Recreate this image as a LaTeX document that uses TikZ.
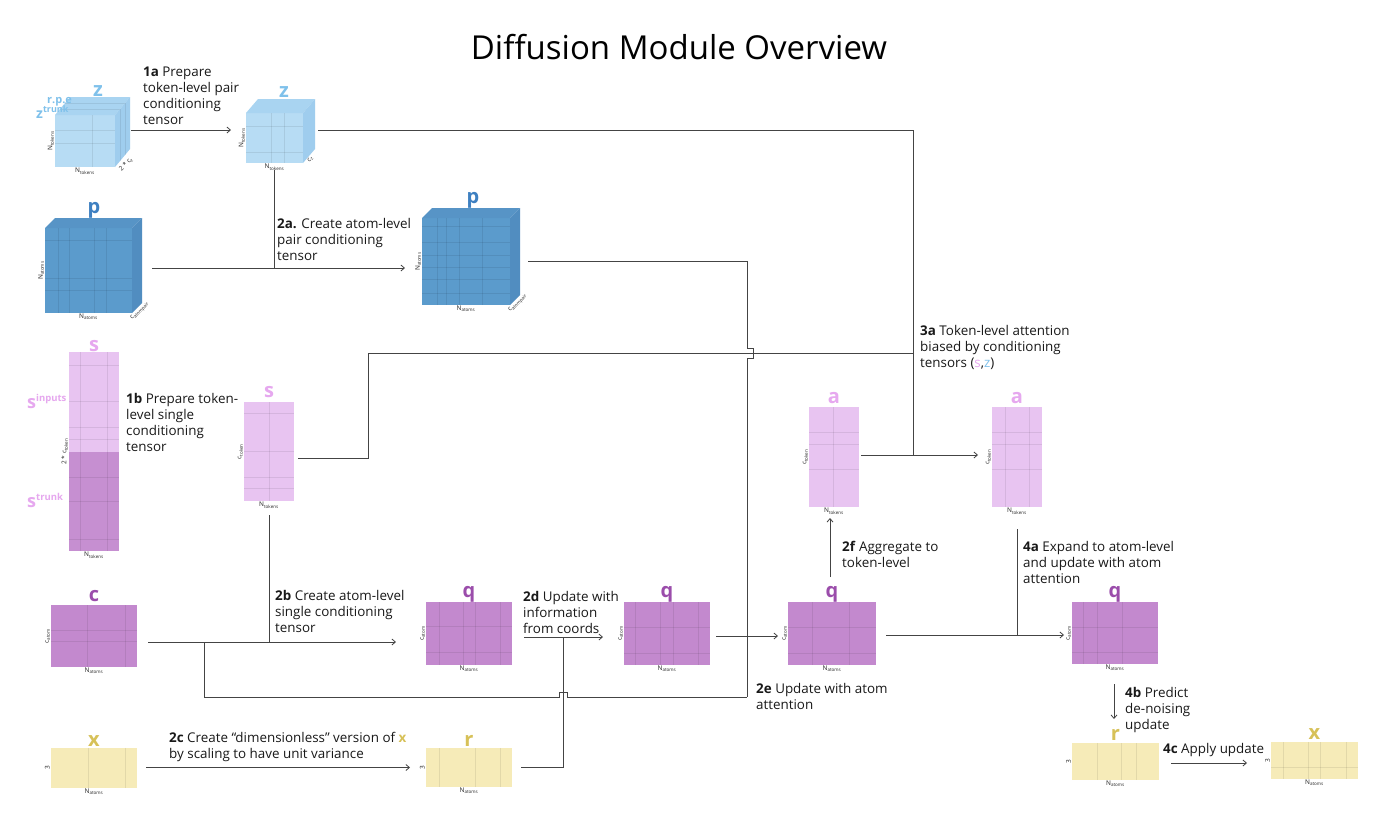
\documentclass[tikz,border=0pt]{standalone}
\usepackage{fontspec}
\setmainfont{Open Sans}
\usepackage{xcolor}
\usepackage{tikz}
\usetikzlibrary{positioning, arrows.meta, calc}
\definecolor{linegray}{HTML}{444444}
\definecolor{zface}{HTML}{B7DCF4}
\definecolor{ztop}{HTML}{A9D4F1}
\definecolor{zside}{HTML}{9FCDEE}
\definecolor{zname}{HTML}{7FC1EB}
\definecolor{pface}{HTML}{5B9BCC}
\definecolor{ptop}{HTML}{5794C6}
\definecolor{pside}{HTML}{518DC0}
\definecolor{pname}{HTML}{3E80C1}
\definecolor{sface}{HTML}{E8C4F1}
\definecolor{strunk}{HTML}{C68FD1}
\definecolor{sname}{HTML}{E6A8EF}
\definecolor{qface}{HTML}{C389CE}
\definecolor{qname}{HTML}{9B4DAB}
\definecolor{xface}{HTML}{F6EBB8}
\definecolor{xname}{HTML}{D7C158}

\tikzset{
  tensor/.style={inner sep=0pt, outer sep=0pt},
  gridline/.style={draw=black, draw opacity=0.08, line width=0.6pt},
  conn/.style={draw=linegray, line width=0.8pt},
  flow/.style={conn, -{Straight Barb[length=3.5pt,width=6pt]}},
  tname/.style={font=\fontsize{20}{20}\selectfont\bfseries, inner sep=0pt, anchor=base},
  dimlabel/.style={font=\fontsize{6.5}{7}\selectfont, inner sep=1pt, text=black!85},
  stepnote/.style={font=\fontsize{13.4}{16}\selectfont, align=left, anchor=north west,
                   inner sep=0pt, text=black!90},
}

% top and side faces of a cube drawn behind its front node
\newcommand{\cubefaces}[5]{%
  \fill[#4] (#1.north west) -- ++(#2,#3) -- ([shift={(#2,#3)}]#1.north east) -- (#1.north east) -- cycle;
  \fill[#5] (#1.north east) -- ++(#2,#3) -- ([shift={(#2,#3)}]#1.south east) -- (#1.south east) -- cycle;}
% grid lines inside a tensor, as fractions from the left / from the top
\newcommand{\colgrid}[2]{\foreach \f in {#2}{\draw[gridline] ($(#1.north west)!\f!(#1.north east)$) -- ($(#1.south west)!\f!(#1.south east)$);}}
\newcommand{\rowgrid}[2]{\foreach \f in {#2}{\draw[gridline] ($(#1.north west)!\f!(#1.south west)$) -- ($(#1.north east)!\f!(#1.south east)$);}}

\begin{document}
\begin{tikzpicture}[x=1pt, y=-1pt]
  \useasboundingbox (0,0) rectangle (1400,825);
  \fill[white] (0,0) rectangle (1400,825);

  \node[font=\fontsize{33}{36}\selectfont] (title) at (679,47) {Diffusion Module Overview};

  % ---- pair tensors (cubes)
  \node[tensor, fill=zface, minimum width=60pt, minimum height=52pt] (z1) at (85,141) {};
  \cubefaces{z1}{15}{-18}{ztop}{zside}
  \draw[gridline] ([shift={(5,-6)}]z1.north west) -- ([shift={(5,-6)}]z1.north east) -- ([shift={(5,-6)}]z1.south east);
  \draw[gridline] ([shift={(10,-12)}]z1.north west) -- ([shift={(10,-12)}]z1.north east) -- ([shift={(10,-12)}]z1.south east);
  \colgrid{z1}{0.62}
  \rowgrid{z1}{0.3,0.55}
  \node[tname, text=zname] (z1name) at ([xshift=13pt,yshift=19pt]z1.north) {z};
  \node[anchor=base west, inner sep=0pt, text=zname, font=\fontsize{11}{11}\selectfont\bfseries] (zrpe)
    at ([xshift=-8pt,yshift=12pt]z1.north west) {r.p.e};
  \node[anchor=base west, inner sep=0pt, text=zname, font=\fontsize{14}{14}\selectfont\bfseries] (ztrunk)
    at ([xshift=-19pt,yshift=-3pt]z1.north west) {z\textsuperscript{\fontsize{9}{9}\selectfont trunk}};
  \node[dimlabel, below=0pt of z1] (z1n) {N\textsubscript{tokens}};
  \node[dimlabel, rotate=90, anchor=south] (z1c) at (z1.west) {N\textsubscript{tokens}};
  \node[dimlabel, rotate=45, anchor=north] (z1d) at ([shift={(8,-6)}]z1.south east) {2 * c\textsubscript{z}};

  \node[tensor, fill=zface, minimum width=57pt, minimum height=50pt] (z2) at (274.5,138) {};
  \cubefaces{z2}{12}{-14}{ztop}{zside}
  \colgrid{z2}{0.44,0.67}
  \rowgrid{z2}{0.26,0.78}
  \node[tname, text=zname] (z2name) at ([xshift=9.5pt,yshift=16pt]z2.north) {z};
  \node[dimlabel, below=0pt of z2] (z2n) {N\textsubscript{tokens}};
  \node[dimlabel, rotate=90, anchor=south] (z2c) at (z2.west) {N\textsubscript{tokens}};
  \node[dimlabel, rotate=45, anchor=north] (z2d) at ([shift={(5,-6)}]z2.south east) {c\textsubscript{z}};

  \node[tensor, fill=pface, minimum width=87pt, minimum height=85pt] (p1) at (88.5,270.5) {};
  \cubefaces{p1}{10}{-10}{ptop}{pside}
  \colgrid{p1}{0.15,0.28,0.57,0.71}
  \rowgrid{p1}{0.14,0.59,0.73}
  \node[tname, text=pname] (p1name) at ([xshift=5.5pt,yshift=15pt]p1.north) {p};
  \node[dimlabel, below=0pt of p1] (p1n) {N\textsubscript{atoms}};
  \node[dimlabel, rotate=90, anchor=south] (p1c) at (p1.west) {N\textsubscript{atoms}};
  \node[dimlabel, rotate=45, anchor=north] (p1d) at ([shift={(5,-5)}]p1.south east) {c\textsubscript{atompair}};

  \node[tensor, fill=pface, minimum width=88pt, minimum height=87pt] (p2) at (466,261.5) {};
  \cubefaces{p2}{10}{-10}{ptop}{pside}
  \colgrid{p2}{0.17,0.28,0.42,0.69}
  \rowgrid{p2}{0.1,0.28,0.43,0.57,0.71,0.86}
  \node[tname, text=pname] (p2name) at ([xshift=7pt,yshift=15pt]p2.north) {p};
  \node[dimlabel, below=0pt of p2] (p2n) {N\textsubscript{atoms}};
  \node[dimlabel, rotate=90, anchor=south] (p2c) at (p2.west) {N\textsubscript{atoms}};
  \node[dimlabel, rotate=45, anchor=north] (p2d) at ([shift={(5,-5)}]p2.south east) {c\textsubscript{atompair}};

  % ---- single tensors
  \node[tensor, fill=sface, minimum width=50pt, minimum height=199pt] (s1) at (94,451.5) {};
  \fill[strunk] (s1.west) rectangle (s1.south east);
  \colgrid{s1}{0.22,0.76}
  \rowgrid{s1}{0.065,0.25,0.38,0.44,0.63,0.75,0.94}
  \node[tname, text=sname] (s1name) at ([yshift=1pt]s1.north) {s};
  \node[anchor=base west, inner sep=0pt, text=sname, font=\fontsize{18}{18}\selectfont\bfseries] (sinputs)
    at ([xshift=-42pt,yshift=-56pt]s1.north west) {s\textsuperscript{\fontsize{9.5}{9.5}\selectfont inputs}};
  \node[anchor=base west, inner sep=0pt, text=sname, font=\fontsize{18}{18}\selectfont\bfseries] (strunkname)
    at ([xshift=-42pt,yshift=-155pt]s1.north west) {s\textsuperscript{\fontsize{9.5}{9.5}\selectfont trunk}};
  \node[dimlabel, below=0pt of s1] (s1n) {N\textsubscript{tokens}};
  \node[dimlabel, rotate=90, anchor=south] (s1c) at (s1.west) {2 * c\textsubscript{token}};

  \node[tensor, fill=sface, minimum width=50pt, minimum height=99pt] (s2) at (269,451.5) {};
  \colgrid{s2}{0.5}
  \rowgrid{s2}{0.11,0.5,0.76,0.87}
  \node[tname, text=sname] (s2name) at ([yshift=5pt]s2.north) {s};
  \node[dimlabel, below=0pt of s2] (s2n) {N\textsubscript{tokens}};
  \node[dimlabel, rotate=90, anchor=south] (s2c) at (s2.west) {c\textsubscript{token}};

  \node[tensor, fill=qface, minimum width=86pt, minimum height=62pt] (c) at (94,636) {};
  \colgrid{c}{0.42,0.86}
  \rowgrid{c}{0.4,0.59}
  \node[tname, text=qname] (cname) at ([yshift=4pt]c.north) {c};
  \node[dimlabel, below=0pt of c] (cn) {N\textsubscript{atoms}};
  \node[dimlabel, rotate=90, anchor=south] (cc) at (c.west) {c\textsubscript{atom}};

  \node[tensor, fill=xface, minimum width=86pt, minimum height=40pt] (x1) at (94,767.5) {};
  \colgrid{x1}{0.43,0.86}
  \node[tname, text=xname] (x1name) at ([yshift=1pt]x1.north) {x};
  \node[dimlabel, below=0pt of x1] (x1n) {N\textsubscript{atoms}};
  \node[dimlabel, rotate=90, anchor=south] (x1c) at (x1.west) {3};

  \node[tensor, fill=qface, minimum width=86pt, minimum height=63pt] (q1) at (469,633.5) {};
  \colgrid{q1}{0.15,0.43,0.57,0.86}
  \rowgrid{q1}{0.39,0.8}
  \node[tname, text=qname] (q1name) at ([yshift=5pt]q1.north) {q};
  \node[dimlabel, below=0pt of q1] (q1n) {N\textsubscript{atoms}};
  \node[dimlabel, rotate=90, anchor=south] (q1c) at (q1.west) {c\textsubscript{atom}};

  \node[tensor, fill=xface, minimum width=86pt, minimum height=39pt] (r1) at (469,767.5) {};
  \colgrid{r1}{0.15,0.57,0.86}
  \node[tname, text=xname] (r1name) at ([yshift=2pt]r1.north) {r};
  \node[dimlabel, below=0pt of r1] (r1n) {N\textsubscript{atoms}};
  \node[dimlabel, rotate=90, anchor=south] (r1c) at (r1.west) {3};

  \node[tensor, fill=qface, minimum width=86pt, minimum height=63pt] (q2) at (667,633.5) {};
  \colgrid{q2}{0.13,0.42,0.57,0.86}
  \rowgrid{q2}{0.4,0.81}
  \node[tname, text=qname] (q2name) at ([yshift=5pt]q2.north) {q};
  \node[dimlabel, below=0pt of q2] (q2n) {N\textsubscript{atoms}};
  \node[dimlabel, rotate=90, anchor=south] (q2c) at (q2.west) {c\textsubscript{atom}};

  \node[tensor, fill=qface, minimum width=88pt, minimum height=63pt] (q3) at (832,633.5) {};
  \colgrid{q3}{0.28,0.7}
  \rowgrid{q3}{0.4,0.81}
  \node[tname, text=qname] (q3name) at ([yshift=5pt]q3.north) {q};
  \node[dimlabel, below=0pt of q3] (q3n) {N\textsubscript{atoms}};
  \node[dimlabel, rotate=90, anchor=south] (q3c) at (q3.west) {c\textsubscript{atom}};

  \node[tensor, fill=sface, minimum width=50pt, minimum height=100pt] (a1) at (834,457) {};
  \colgrid{a1}{0.48}
  \rowgrid{a1}{0.25,0.37,0.62}
  \node[tname, text=sname] (a1name) at ([yshift=4pt]a1.north) {a};
  \node[dimlabel, below=0pt of a1] (a1n) {N\textsubscript{tokens}};
  \node[dimlabel, rotate=90, anchor=south] (a1c) at (a1.west) {c\textsubscript{token}};

  \node[tensor, fill=sface, minimum width=50pt, minimum height=100pt] (a2) at (1017,457) {};
  \colgrid{a2}{0.26,0.74}
  \rowgrid{a2}{0.25,0.37,0.62}
  \node[tname, text=sname] (a2name) at ([yshift=4pt]a2.north) {a};
  \node[dimlabel, below=0pt of a2] (a2n) {N\textsubscript{tokens}};
  \node[dimlabel, rotate=90, anchor=south] (a2c) at (a2.west) {c\textsubscript{token}};

  \node[tensor, fill=qface, minimum width=86pt, minimum height=62pt] (q4) at (1115,633) {};
  \colgrid{q4}{0.13,0.29,0.58}
  \rowgrid{q4}{0.4,0.81}
  \node[tname, text=qname] (q4name) at ([yshift=5pt]q4.north) {q};
  \node[dimlabel, below=0pt of q4] (q4n) {N\textsubscript{atoms}};
  \node[dimlabel, rotate=90, anchor=south] (q4c) at (q4.west) {c\textsubscript{atom}};

  \node[tensor, fill=xface, minimum width=87pt, minimum height=37pt] (r2) at (1115.5,761.5) {};
  \colgrid{r2}{0.29,0.57,0.74}
  \node[tname, text=xname] (r2name) at ([yshift=3pt]r2.north) {r};
  \node[dimlabel, below=0pt of r2] (r2n) {N\textsubscript{atoms}};
  \node[dimlabel, rotate=90, anchor=south] (r2c) at (r2.west) {3};

  \node[tensor, fill=xface, minimum width=87pt, minimum height=37pt] (x2) at (1314.5,760.5) {};
  \colgrid{x2}{0.14,0.43,0.57,0.87}
  \rowgrid{x2}{0.68}
  \node[tname, text=xname] (x2name) at ([yshift=3pt]x2.north) {x};
  \node[dimlabel, below=0pt of x2] (x2n) {N\textsubscript{atoms}};
  \node[dimlabel, rotate=90, anchor=south] (x2c) at (x2.west) {3};

  % ---- junctions and line hops
  \coordinate (tok3a) at ([xshift=54pt,yshift=2pt]a1.east);
  \coordinate (hopA) at (747,353);
  \coordinate (hopB) at (563,697);

  % ---- connectors
  \draw[flow] ([xshift=16pt,yshift=11pt]z1.east) coordinate (za) -- ([xshift=-15pt]z2.west |- za);
  \draw[conn] ([xshift=15pt]z2.east |- za) -| (tok3a);
  \draw[flow] ([xshift=2pt]a1.east |- tok3a) -- ([xshift=-14pt]a2.west |- tok3a);
  \draw[conn] ([xshift=4pt,yshift=-6.5pt]s2.east) -- ++(70,0) |- ([yshift=102pt]tok3a);

  \draw[flow] ([xshift=20pt,yshift=2.5pt]p1.east) coordinate (pa) -- ([xshift=-17pt]p2.west |- pa);
  \draw[conn] ([yshift=-7pt]z2.south) -- (z2.south |- pa);
  \draw[conn] ([xshift=18pt]p2.east) -| ([yshift=5pt]hopA) -- ++(6,0) -- ++(0,10) -- ++(-6,0) -- (hopA |- hopB);

  \draw[flow] ([xshift=11pt,yshift=-6pt]c.east) coordinate (ca) -- ([xshift=-30pt]q1.west |- ca);
  \draw[conn] ([yshift=-14pt]s2.south) -- (s2.south |- ca);
  \draw[conn] ([xshift=56pt]ca) |- ([xshift=-4pt]hopB) -- ++(0,-5) -- ++(8,0) -- ++(0,5) -- (hopA |- hopB);

  \draw[flow] ([xshift=9pt]x1.east) -- ([xshift=-16pt]r1.west);
  \draw[flow] ([xshift=12pt,yshift=-3.5pt]q1.east) coordinate (da) -- ([xshift=-21pt]q2.west |- da);
  \draw[conn] ([xshift=9pt]r1.east) -| (hopB |- da);
  \draw[flow] ([xshift=6pt,yshift=-2.5pt]q2.east) coordinate (ea) -- ([xshift=-10pt]q3.west |- ea);
  \draw[flow] ([xshift=-2pt,yshift=25pt]q3.north) -- ([xshift=-4pt,yshift=-11pt]a1.south);

  \draw[flow] ([xshift=10pt,yshift=-1.5pt]q3.east) coordinate (qa) -- ([xshift=-8pt]q4.west |- qa);
  \draw[conn] ([yshift=-22pt]a2.south) -- (a2.south |- qa);
  \draw[flow] ([xshift=-1pt,yshift=-20pt]q4.south) -- ([xshift=-1.5pt,yshift=24pt]r2.north);
  \draw[flow] ([xshift=12pt,yshift=-1.5pt]r2.east) coordinate (xa) -- ([xshift=-24pt]x2.west |- xa);

  % ---- step notes
  \node[stepnote] (step1a) at (143,67) {\textbf{1a} Prepare\\token-level pair\\conditioning\\tensor};
  \node[stepnote] (step2a) at (277,218) {\textbf{2a.} Create atom-level\\pair conditioning\\tensor};
  \node[stepnote] (step1b) at (126,393) {\textbf{1b} Prepare token-\\level single\\conditioning\\tensor};
  \node[stepnote] (step2b) at (275,590) {\textbf{2b} Create atom-level\\single conditioning\\tensor};
  \node[stepnote] (step2c) at (169,732) {\textbf{2c} Create “dimensionless” version of {\color{xname}\textbf{x}}\\by scaling to have unit variance};
  \node[stepnote] (step2d) at (523,591) {\textbf{2d} Update with\\information\\from coords};
  \node[stepnote] (step2e) at (756,683) {\textbf{2e} Update with atom\\attention};
  \node[stepnote] (step2f) at (842,541) {\textbf{2f} Aggregate to\\token-level};
  \node[stepnote] (step3a) at (920,325) {\textbf{3a} Token-level attention\\biased by conditioning\\tensors ({\color{sname}s},{\color{zname}z})};
  \node[stepnote] (step4a) at (1023,541) {\textbf{4a} Expand to atom-level\\and update with atom\\attention};
  \node[stepnote] (step4b) at (1125,687) {\textbf{4b} Predict\\de-noising\\update};
  \node[stepnote] (step4c) at (1163,743) {\textbf{4c} Apply update};
\end{tikzpicture}
\end{document}
